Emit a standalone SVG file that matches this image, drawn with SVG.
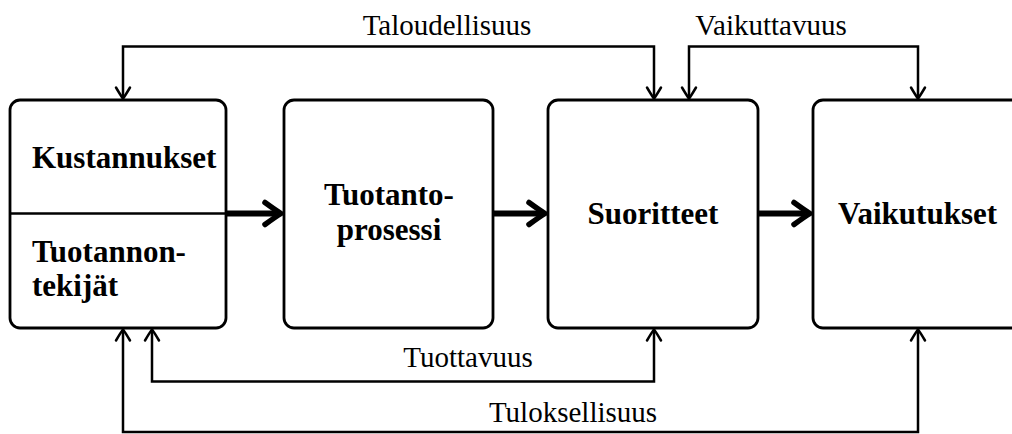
<svg xmlns="http://www.w3.org/2000/svg" width="1012" height="434" viewBox="0 0 1012 434">
  <style>
    .box { fill: #ffffff; stroke: #000000; stroke-width: 2.8; }
    .conn { fill: none; stroke: #000000; stroke-width: 2.5; }
    .thick { fill: none; stroke: #000000; stroke-width: 6; }
    .lbl { font-family: "Liberation Serif", "Times New Roman", serif; font-size: 29px; fill: #000000; }
    .bold { font-family: "Liberation Serif", "Times New Roman", serif; font-size: 31px; font-weight: bold; fill: #000000; }
  </style>
  <defs>
    <marker id="thin" markerUnits="userSpaceOnUse" markerWidth="20" markerHeight="20" viewBox="-12 -10 14 20" refX="0" refY="0" orient="auto-start-reverse" overflow="visible">
      <path d="M -11,-7 Q -2.5,-2 0,0 Q -2.5,2 -11,7" fill="none" stroke="#000" stroke-width="2.5" stroke-linecap="round" stroke-linejoin="round"/>
    </marker>
    <marker id="big" markerUnits="userSpaceOnUse" markerWidth="30" markerHeight="30" viewBox="-20 -15 24 30" refX="0" refY="0" orient="auto" overflow="visible">
      <path d="M -11,-11 Q 0,-3 5,0 Q 0,3 -11,11" fill="none" stroke="#000" stroke-width="5.5" stroke-linecap="round" stroke-linejoin="round"/>
    </marker>
  </defs>

  <g id="node-panokset">
    <rect x="10" y="100" width="216" height="228" rx="10" ry="10" class="box"/>
    <text x="32" y="168" class="bold">Kustannukset</text>
    <text x="32" y="262" class="bold">Tuotannon-</text>
    <text x="32" y="296" class="bold">tekijät</text>
  </g>

  <g id="node-prosessi">
    <rect x="284" y="100" width="209" height="228" rx="10" ry="10" class="box"/>
    <text x="389" y="205" class="bold" text-anchor="middle">Tuotanto-</text>
    <text x="389" y="240" class="bold" text-anchor="middle">prosessi</text>
  </g>

  <g id="node-suoritteet">
    <rect x="548" y="100" width="210" height="228" rx="10" ry="10" class="box"/>
    <text x="653" y="224" class="bold" text-anchor="middle">Suoritteet</text>
  </g>

  <g id="node-vaikutukset">
    <rect x="813" y="100" width="209" height="228" rx="10" ry="10" class="box"/>
    <text x="917.5" y="224" class="bold" text-anchor="middle">Vaikutukset</text>
  </g>

  <g id="connectors">
    <line x1="10" y1="213.5" x2="226" y2="213.5" class="conn"/>
    <line x1="226" y1="213.5" x2="276" y2="213.5" class="thick" marker-end="url(#big)"/>
    <line x1="493" y1="213.5" x2="540" y2="213.5" class="thick" marker-end="url(#big)"/>
    <line x1="758" y1="213.5" x2="805" y2="213.5" class="thick" marker-end="url(#big)"/>

    <path d="M 123,98.5 V 46.5 H 654 V 98.5" class="conn" marker-start="url(#thin)" marker-end="url(#thin)"/>
    <path d="M 689,98.5 V 46.5 H 918 V 98.5" class="conn" marker-start="url(#thin)" marker-end="url(#thin)"/>
    <path d="M 152,329.5 V 381.5 H 654 V 329.5" class="conn" marker-start="url(#thin)" marker-end="url(#thin)"/>
    <path d="M 123,329.5 V 432 H 918 V 329.5" class="conn" marker-start="url(#thin)" marker-end="url(#thin)"/>

    <text x="447" y="35" class="lbl" text-anchor="middle">Taloudellisuus</text>
    <text x="771" y="35" class="lbl" text-anchor="middle">Vaikuttavuus</text>
    <text x="468" y="367" class="lbl" text-anchor="middle">Tuottavuus</text>
    <text x="573" y="422" class="lbl" text-anchor="middle">Tuloksellisuus</text>
  </g>
</svg>
